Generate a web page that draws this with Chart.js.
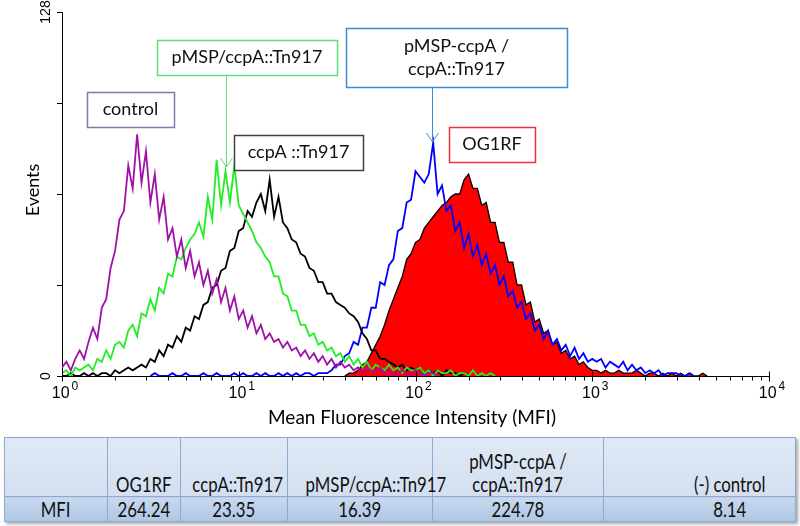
<!DOCTYPE html>
<html>
<head>
<meta charset="utf-8">
<script src="https://cdn.jsdelivr.net/npm/chart.js@4.4.1/dist/chart.umd.min.js"></script>
<style>
  html, body { margin: 0; padding: 0; background: #fff; }
  #wrap { position: absolute; left: 0; top: 0; width: 800px; height: 432px; }
  #mfi {
    position: absolute; left: 4px; top: 437px; width: 791px;
    border-collapse: collapse; table-layout: fixed;
    font-family: Lato, "Open Sans", sans-serif; font-size: 21px; color: #111;
    box-shadow: 2px 2px 3px rgba(0, 0, 0, 0.35);
  }
  #mfi td { border: 1px solid #8eaad3; text-align: center; padding: 0; white-space: nowrap; }
  #mfi td span { display: inline-block; transform: scaleX(0.8); transform-origin: center; }
  #mfi tr.hd td { height: 57px; vertical-align: bottom; line-height: 23px; padding-bottom: 1px; background: linear-gradient(#e0e9f5, #d3dff0); }
  #mfi tr.val td { height: 24px; line-height: 22px; background: linear-gradient(#c9d9ee, #afc6e4); }
  #mfi td.last { padding-left: 60px; }
</style>
</head>
<body>
<div id="wrap"><canvas id="histo" width="800" height="432"></canvas></div>
<table id="mfi">
  <colgroup><col style="width:103px"><col style="width:73px"><col style="width:107px"><col style="width:145px"><col style="width:171px"><col style="width:192px"></colgroup>
  <tr class="hd" id="hdRow"></tr>
  <tr class="val" id="valRow"></tr>
</table>
<script>
// Canales del citómetro: 40 canales por década, de 10^0 a 10^4
const channels = Array.from({ length: 160 }, (_, i) => Math.pow(10, i / 40));

// Conteos por canal (Events); cada serie empieza en su canal "start"
const controlStart = 0;
const controlCounts = [3, 5, 2, 6, 9, 6, 12, 17, 13, 24,
  27, 38, 44, 55, 58, 74, 66, 85, 68, 79,
  61, 71, 55, 63, 48, 52, 42, 48, 38, 44,
  35, 40, 32, 37, 29, 34, 26, 31, 23, 28,
  20, 23, 17, 21, 15, 18, 13, 15, 12, 13,
  10, 12, 9, 10, 7, 9, 6, 8, 5, 7,
  4, 6, 3, 5, 3, 4, 2, 3, 1, 3,
  2, 1, 3, 1, 2, 0, 1, 2, 1, 0,
  2, 1, 0, 1, 1, 0];

const pmspStart = 0;
const pmspCounts = [1, 2, 0, 3, 2, 3, 4, 2, 6, 5,
  9, 6, 11, 12, 10, 16, 18, 14, 22, 21,
  27, 23, 31, 29, 36, 35, 42, 41, 45, 48,
  50, 54, 49, 63, 55, 76, 60, 72, 61, 74,
  60, 57, 54, 51, 47, 45, 42, 40, 35, 35,
  29, 28, 23, 23, 18, 18, 14, 15, 11, 12,
  9, 10, 7, 8, 5, 7, 4, 6, 3, 5,
  2, 4, 3, 2, 4, 2, 3, 1, 3, 2,
  2, 3, 1, 2, 0, 2, 1, 1, 2, 0,
  1, 1, 0, 2, 0, 1, 0, 1, 0];

const ccpaStart = 0;
const ccpaCounts = [0, 0, 1, 0, 0, 1, 0, 1, 0, 1,
  1, 0, 2, 1, 2, 3, 2, 3, 4, 3,
  6, 5, 9, 7, 11, 10, 14, 12, 17, 16,
  21, 20, 25, 26, 31, 32, 37, 38, 44, 45,
  51, 52, 58, 56, 61, 64, 58, 69, 56, 63,
  54, 52, 48, 47, 43, 42, 38, 37, 33, 33,
  29, 29, 26, 25, 24, 22, 21, 19, 15, 13,
  9, 9, 6, 6, 5, 4, 3, 4, 2, 3,
  2, 3, 1, 2, 1, 2, 0, 2, 1, 1, 0, 1, 0];

const compStart = 20;
const compCounts = [0, 1, 0, 0, 0, 1, 0, 0, 1, 0,
  0, 0, 1, 0, 0, 1, 0, 0, 0, 1,
  0, 1, 0, 0, 1, 0, 1, 0, 0, 1,
  0, 1, 0, 1, 0, 1, 1, 0, 1, 1,
  1, 2, 4, 4, 7, 8, 12, 11, 17, 17,
  24, 24, 33, 32, 39, 41, 51, 52, 61, 62,
  72, 70, 68, 71, 82, 64, 67, 58, 60, 51,
  54, 45, 50, 42, 46, 39, 43, 36, 39, 32,
  35, 28, 30, 24, 26, 20, 22, 16, 18, 13,
  16, 11, 13, 9, 11, 7, 10, 6, 8, 5,
  6, 5, 6, 3, 5, 4, 3, 5, 2, 4,
  2, 3, 1, 2, 1, 2, 0, 1, 1, 1, 0, 0, 1, 0];

const og1rfStart = 64;
const og1rfCounts = [0, 1, 1, 2, 4, 5,
  8, 11, 14, 18, 23, 27, 31, 35, 41, 43,
  47, 48, 52, 54, 56, 58, 60, 61, 63, 64,
  64, 69, 71, 66, 66, 60, 61, 54, 54, 47,
  47, 40, 40, 32, 32, 25, 26, 19, 20, 15,
  16, 11, 12, 8, 9, 6, 7, 4, 5, 3,
  2, 2, 1, 2, 1, 1, 2, 1, 1, 1,
  2, 1, 0, 1, 1, 0, 1, 0, 1, 0,
  1, 0, 1, 0, 0, 1, 0];

// Ejes
const yTickLabels = ["0", "128"];
const yMax = 128;
const xTickValues = [1, 10, 100, 1000, 10000];
const xTickExponents = ["0", "1", "2", "3", "4"];

// Tabla de MFI
const strainNames = ["OG1RF", "ccpA::Tn917", "pMSP/ccpA::Tn917", "pMSP-ccpA /\nccpA::Tn917", "(-) control"];
const mfiValues = ["264.24", "23.35", "16.39", "224.78", "8.14"];

// Etiquetas con flecha: posición en unidades de datos (x = MFI, y = Events)
const labelTexts = ["control", "pMSP/ccpA::Tn917", "ccpA ::Tn917", "pMSP-ccpA /\nccpA::Tn917", "OG1RF"];
const labelX = [2.44, 11.13, 21.78, 170.6, 271];
const labelY = [93.7, 112, 78.6, 112, 81.4];
const arrowX = [null, 8.47, null, 124, null];
const arrowY = [null, 73.5, null, 82.3, null];

const $ = (id) => document.getElementById(id);

/* Tabla debajo del gráfico */
const span = (t) => `<span>${t}</span>`;
$("hdRow").insertCell().innerHTML = "";
strainNames.forEach((name, i) => {
  const cell = $("hdRow").insertCell();
  cell.innerHTML = name.split("\n").map(span).join("<br>");
  if (i === strainNames.length - 1) cell.className = "last";
});
$("valRow").insertCell().innerHTML = span("MFI");
mfiValues.forEach((v, i) => {
  const cell = $("valRow").insertCell();
  cell.innerHTML = span(v);
  if (i === mfiValues.length - 1) cell.className = "last";
});

// Pasa conteos a puntos {x, y}
function toPoints(start, counts) {
  return counts.map((c, i) => ({ x: channels[start + i], y: c }));
}

const boxStyle = [
  { w: 87, h: 35, color: "#8a76a8" },
  { w: 180, h: 35, color: "#5fe07a" },
  { w: 129, h: 35, color: "#404040" },
  { w: 221, h: 59, color: "#3d8bd1" },
  { w: 86, h: 35, color: "#e8323c" },
];

const decor = {
  id: "decor",
  afterDraw(chart) {
    const { ctx, scales: { x, y } } = chart;
    ctx.save();

    // marcas del eje x (mayores y menores)
    const base = Math.round(y.getPixelForValue(0)) + 0.5;
    ctx.strokeStyle = "#000";
    ctx.lineWidth = 1;
    xTickValues.forEach((v, d) => {
      const px = Math.round(x.getPixelForValue(v)) + 0.5;
      ctx.beginPath(); ctx.moveTo(px, base - 5); ctx.lineTo(px, base + 5); ctx.stroke();
      if (d < xTickValues.length - 1) {
        for (let m = 2; m < 10; m++) {
          const mp = Math.round(x.getPixelForValue(v * m)) + 0.5;
          ctx.beginPath(); ctx.moveTo(mp, base); ctx.lineTo(mp, base + 4); ctx.stroke();
        }
      }
    });

    // etiquetas 10^n
    ctx.fillStyle = "#000";
    ctx.textBaseline = "alphabetic";
    ctx.textAlign = "left";
    xTickValues.forEach((v, d) => {
      const px = x.getPixelForValue(v);
      ctx.font = '16px "Liberation Sans"';
      const w1 = ctx.measureText("10").width;
      ctx.font = '12px "Liberation Sans"';
      const w2 = ctx.measureText(xTickExponents[d]).width + 2;
      const left = px - (w1 + w2) / 2 + 3;
      ctx.font = '16px "Liberation Sans"';
      ctx.fillText("10", left, 398);
      ctx.font = '12px "Liberation Sans"';
      ctx.fillText(xTickExponents[d], left + w1 + 2, 390);
    });

    // etiquetas del eje y (rotadas)
    ctx.font = '14px "Liberation Sans"';
    ctx.textAlign = "center";
    ctx.textBaseline = "middle";
    [0, yMax].forEach((v, i) => {
      ctx.save();
      ctx.translate(46, y.getPixelForValue(v));
      ctx.rotate(-Math.PI / 2);
      ctx.fillText(yTickLabels[i], 0, 0);
      ctx.restore();
    });

    // títulos de ejes
    ctx.font = '18px Lato';
    ctx.save();
    ctx.translate(33, 190);
    ctx.rotate(-Math.PI / 2);
    ctx.fillText("Events", 0, 0);
    ctx.restore();
    ctx.font = '19px Lato';
    ctx.fillText("Mean Fluorescence Intensity (MFI)", 412, 418);

    // cajas con flechas
    labelTexts.forEach((txt, i) => {
      const cx = x.getPixelForValue(labelX[i]);
      const cy = y.getPixelForValue(labelY[i]);
      const st = boxStyle[i];
      const bx = Math.round(cx - st.w / 2) + 0.5;
      const by = Math.round(cy - st.h / 2) + 0.5;
      ctx.fillStyle = "#fff";
      ctx.fillRect(bx, by, st.w, st.h);
      ctx.strokeStyle = st.color;
      ctx.lineWidth = 1.5;
      ctx.strokeRect(bx, by, st.w, st.h);
      ctx.fillStyle = "#111";
      ctx.font = '18px Lato';
      const lines = txt.split("\n");
      lines.forEach((ln, k) => {
        ctx.fillText(ln, cx, cy + (k - (lines.length - 1) / 2) * 23);
      });
      if (arrowX[i] !== null) {
        const ax = Math.round(x.getPixelForValue(arrowX[i])) + 0.5;
        const ay = y.getPixelForValue(arrowY[i]);
        ctx.strokeStyle = st.color;
        ctx.lineWidth = 1;
        ctx.beginPath();
        ctx.moveTo(ax, by + st.h);
        ctx.lineTo(ax, ay);
        ctx.moveTo(ax - 6, ay - 9);
        ctx.lineTo(ax, ay);
        ctx.lineTo(ax + 6, ay - 9);
        ctx.stroke();
      }
    });
    ctx.restore();
  },
};

const lineDefaults = { pointRadius: 0, borderWidth: 1.8, fill: false, tension: 0 };

new Chart($("histo"), {
  type: "line",
  data: {
    datasets: [
      { ...lineDefaults, label: "control", data: toPoints(controlStart, controlCounts), borderColor: "#a010a8", order: 1 },
      { ...lineDefaults, label: "pMSP/ccpA::Tn917", data: toPoints(pmspStart, pmspCounts), borderColor: "#22ee22", order: 2 },
      { ...lineDefaults, label: "ccpA::Tn917", data: toPoints(ccpaStart, ccpaCounts), borderColor: "#000000", order: 3 },
      { ...lineDefaults, label: "pMSP-ccpA / ccpA::Tn917", data: toPoints(compStart, compCounts), borderColor: "#0000ff", order: 4 },
      { ...lineDefaults, label: "OG1RF", data: toPoints(og1rfStart, og1rfCounts), borderColor: "#000000", borderWidth: 1.3,
        backgroundColor: "#ff0000", fill: "origin", order: 5 },
    ],
  },
  options: {
    responsive: false,
    animation: false,
    devicePixelRatio: 1,
    layout: { padding: { top: 12, right: 31, left: 0, bottom: 0 } },
    plugins: { legend: { display: false }, tooltip: { enabled: false } },
    scales: {
      x: {
        type: "logarithmic",
        min: 1,
        max: 10000,
        grid: { display: false },
        border: { display: true, color: "#000", width: 1 },
        ticks: { display: false },
        afterFit: (s) => { s.height = 56; },
      },
      y: {
        type: "linear",
        min: 0,
        max: yMax,
        ticks: { display: false, stepSize: 32 },
        grid: { display: true, drawOnChartArea: false, drawTicks: true, tickLength: 5, color: "#000" },
        border: { display: true, color: "#000", width: 1 },
        afterFit: (s) => { s.width = 62; },
      },
    },
  },
  plugins: [decor],
});
</script>
</body>
</html>
